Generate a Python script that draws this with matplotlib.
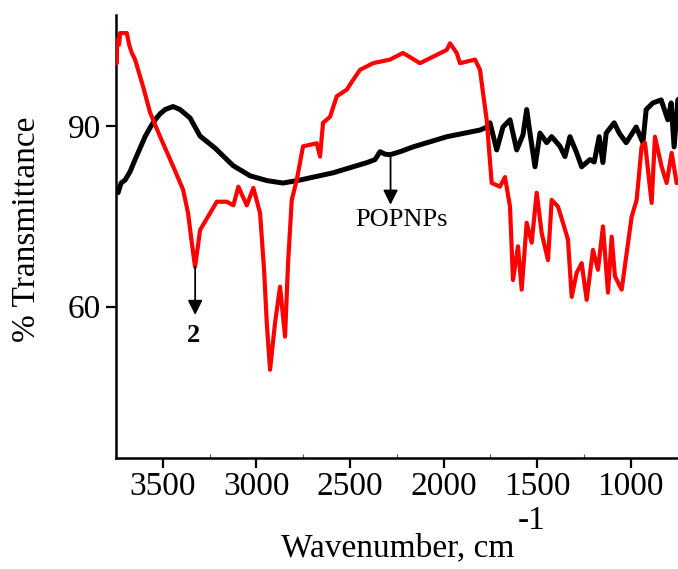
import matplotlib
matplotlib.use("Agg")
import matplotlib.pyplot as plt

# ---- data ----
popnps_wn = [3749.5, 3738.8, 3722.8, 3701.4, 3674.7, 3648.0, 3621.3, 3594.6, 3567.8, 3541.1,
             3514.4, 3487.7, 3445.0, 3407.6, 3354.2, 3300.8, 3220.6, 3124.5, 3033.6, 2942.8,
             2857.3, 2766.5, 2590.2, 2408.6, 2365.9, 2339.2, 2312.5, 2285.8, 2232.3, 2162.9,
             1981.2, 1805.0, 1767.6, 1751.6, 1715.8, 1682.2, 1644.8, 1608.9, 1575.3, 1555.5,
             1537.9, 1511.2, 1484.5, 1448.7, 1422.0, 1377.6, 1350.9, 1324.2, 1288.4, 1261.7,
             1217.4, 1194.8, 1168.1, 1148.4, 1130.7, 1088.0, 1061.2, 1023.8, 970.4, 934.6,
             917.0, 881.2, 837.0, 801.4, 783.7, 767.7, 748.0, 730.0]
popnps_t = [79.7, 78.9, 80.5, 81.0, 82.4, 84.4, 86.3, 88.2, 89.7, 91.0,
            92.0, 92.7, 93.2, 92.7, 91.3, 88.3, 86.3, 83.4, 81.7, 80.9,
            80.5, 81.0, 82.2, 83.9, 84.4, 85.7, 85.3, 85.2, 85.7, 86.5,
            88.2, 89.3, 89.8, 90.5, 86.0, 89.8, 91.0, 86.0, 88.5, 92.7,
            88.8, 83.2, 88.8, 87.2, 88.2, 86.6, 84.9, 88.2, 85.5, 83.2,
            84.4, 84.0, 88.2, 83.9, 88.8, 90.5, 88.8, 87.2, 89.8, 87.2,
            92.7, 93.8, 94.3, 91.0, 93.8, 86.5, 94.3, 94.8]

s2_wn = [3745.7, 3744.0, 3733.4, 3728.1, 3692.3, 3680.0, 3665.6, 3648.0, 3605.2, 3567.8,
         3514.4, 3445.0, 3391.6, 3364.8, 3343.5, 3327.5, 3311.4, 3300.8, 3247.4, 3211.5,
         3158.1, 3122.8, 3096.1, 3051.3, 3016.0, 2980.2, 2958.8, 2944.4, 2926.8, 2900.1,
         2873.4, 2846.7, 2830.6, 2810.9, 2784.2, 2750.5, 2677.3, 2659.7, 2643.7, 2606.3,
         2570.5, 2517.1, 2483.4, 2446.0, 2376.6, 2285.8, 2216.3, 2125.5, 1982.9, 1965.3,
         1929.5, 1911.9, 1831.7, 1805.0, 1789.0, 1769.2, 1742.5, 1698.2, 1671.5, 1644.8,
         1628.7, 1602.0, 1582.2, 1555.5, 1528.8, 1502.1, 1475.4, 1441.7, 1421.9, 1388.3,
         1361.6, 1334.9, 1315.1, 1288.4, 1261.7, 1235.0, 1201.3, 1174.6, 1147.9, 1121.2,
         1101.4, 1083.8, 1048.0, 1021.3, 994.6, 967.9, 941.2, 923.6, 887.8, 870.2,
         834.4, 807.7, 781.0, 754.3, 737.0]
s2_t = [100.4, 104.3, 103.5, 105.4, 105.4, 103.5, 102.1, 101.0, 96.5, 92.2,
        88.2, 83.3, 79.4, 75.5, 70.2, 66.6, 70.2, 72.7, 75.5, 77.4,
        77.4, 76.8, 79.9, 76.8, 79.7, 75.5, 66.1, 57.3, 49.5, 57.3,
        63.3, 55.0, 67.2, 77.7, 81.0, 86.6, 87.1, 84.9, 90.5, 91.5,
        94.9, 96.0, 97.6, 99.3, 100.4, 101.0, 102.1, 100.4, 102.6, 103.7,
        102.1, 100.4, 101.0, 99.3, 95.5, 91.0, 80.5, 79.9, 81.5, 76.6,
        64.4, 70.0, 62.8, 73.9, 70.6, 78.9, 72.2, 67.7, 77.7, 76.6,
        73.9, 71.1, 61.6, 65.6, 67.2, 61.1, 69.4, 66.1, 73.3, 62.3,
        71.6, 65.0, 62.8, 68.9, 74.9, 77.7, 86.6, 87.2, 77.2, 88.2,
        83.2, 80.5, 85.5, 80.5, 81.0]

x_ticks = [3500, 3000, 2500, 2000, 1500, 1000]
y_ticks = [60, 90]

plt.rcParams['font.family'] = ['Liberation Serif', 'DejaVu Serif']

fig = plt.figure(figsize=(6.78, 5.69), dpi=100)
ax = fig.add_axes([116 / 678, 1 - 458 / 569, 1 - 116 / 678, (458 - 15) / 569])

ax.plot(popnps_wn, popnps_t, color='black', lw=3.6, solid_joinstyle='round',
        solid_capstyle='round', zorder=2)
ax.plot(s2_wn, s2_t, color='#ff0000', lw=3.0, solid_joinstyle='round',
        solid_capstyle='round', zorder=3)

ax.set_xlim(3750, 747)
ax.set_ylim(34.85, 108.4)
ax.set_xticks(x_ticks)
ax.set_xticks([3250, 2750, 2250, 1750, 1250], minor=True)
ax.set_yticks(y_ticks)
ax.tick_params(axis='both', which='major', direction='out', length=7, width=1.6,
               labelsize=24, color='black')
ax.tick_params(axis='x', which='major', pad=3)
ax.tick_params(axis='y', which='major', pad=4)
ax.tick_params(axis='x', which='minor', direction='in', length=3, width=0.8, color='#555555')

for s in ['top', 'right']:
    ax.spines[s].set_visible(False)
for s in ['left', 'bottom']:
    ax.spines[s].set_linewidth(1.8)

fig.text(27 / 678, 1 - 229 / 569, '% Transmittance', rotation=90, fontsize=24,
         ha='center', va='center')
fig.text(398 / 678, 1 - 548 / 569, 'Wavenumber, cm', fontsize=24, ha='center', va='center')
fig.text(532 / 678, 1 - 521 / 569, '-1', fontsize=24, ha='center', va='center')

# annotations
ax.annotate('', xy=(3327, 58.6), xytext=(3327, 66.6),
            arrowprops=dict(arrowstyle='-|>', color='black', lw=1.3,
                            mutation_scale=22, shrinkA=0, shrinkB=0))
ax.text(3335, 55.2, '2', fontsize=19, fontweight='bold', ha='center', va='center')

ax.annotate('', xy=(2283, 76.9), xytext=(2283, 85.5),
            arrowprops=dict(arrowstyle='-|>', color='black', lw=1.3,
                            mutation_scale=22, shrinkA=0, shrinkB=0))
ax.text(2222, 74.4, 'POPNPs', fontsize=19, ha='center', va='center')

fig.savefig('out.png', dpi=100)
